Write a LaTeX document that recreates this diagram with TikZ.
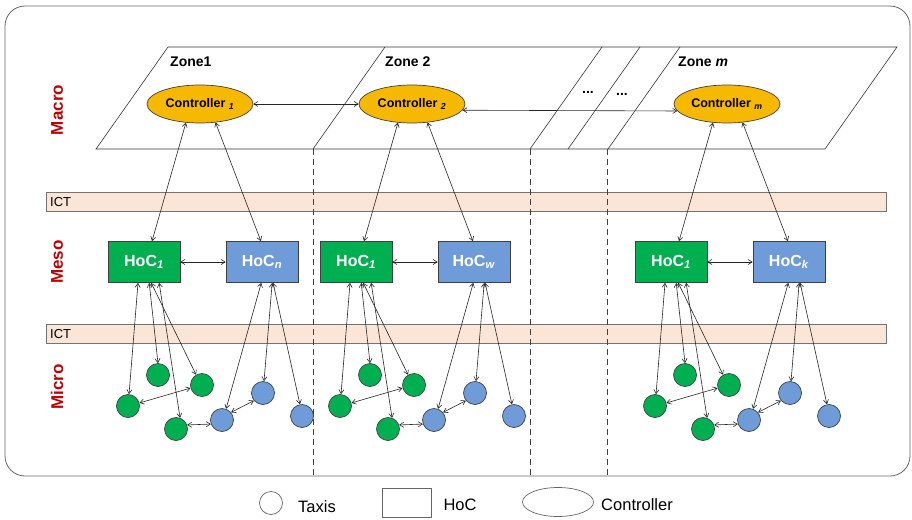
\documentclass[tikz,border=0pt]{standalone}
\usepackage{fontspec}
\setmainfont{Liberation Sans}
\usetikzlibrary{arrows.meta,shapes.geometric}

\definecolor{taxigreen}{HTML}{00B050}
\definecolor{taxiblue}{HTML}{6F9BD9}
\definecolor{ctrlorange}{HTML}{F6B800}
\definecolor{ictpeach}{HTML}{FBE5D6}
\definecolor{layerred}{HTML}{C00000}

\begin{document}
\begin{tikzpicture}[x=1pt, y=-1pt]

    \tikzset{link/.style={%
      {Straight Barb[length=4pt,width=5pt]}-{Straight Barb[length=4pt,width=5pt]},%
      draw=black!85,%
      line width=0.6pt}%
    };

    \tikzset{hoc/.style={draw=black!75, line width=0.7pt, minimum width=72pt, minimum height=41pt,
      inner sep=0pt, text=white, font=\fontsize{16}{19}\selectfont\bfseries}};
    \tikzset{greenhoc/.style={hoc, fill=taxigreen}};
    \tikzset{bluehoc/.style={hoc, fill=taxiblue}};
    \tikzset{taxi/.style={circle, draw=black!75, line width=0.7pt, minimum size=23pt, inner sep=0pt}};
    \tikzset{greentaxi/.style={taxi, fill=taxigreen}};
    \tikzset{bluetaxi/.style={taxi, fill=taxiblue}};
    \tikzset{ctrl/.style={ellipse, draw=black!75, line width=0.7pt, fill=ctrlorange, minimum width=106pt,
      minimum height=38pt, inner sep=0pt, font=\fontsize{12.5}{15}\selectfont\bfseries}};
    \tikzset{layer/.style={rotate=90, text=layerred, font=\fontsize{17}{20}\selectfont\bfseries}};
    \tikzset{ictband/.style={draw=black!55, line width=0.7pt, fill=ictpeach, minimum width=840pt,
      minimum height=19pt, inner sep=0pt, anchor=north west}};
    \tikzset{plane/.style={draw=black!80, line width=0.6pt}};
    \tikzset{zoneline/.style={draw=black!75, line width=0.7pt, dash pattern=on 6pt off 4pt}};
    \tikzset{zonelabel/.style={anchor=west, inner sep=0pt, font=\fontsize{14}{17}\selectfont\bfseries}};
    \tikzset{legend/.style={font=\fontsize{16.5}{20}\selectfont}};

    \useasboundingbox (0,0) rectangle (912,519);

    %%%%%%%%%%%%%%%
    % frame       %
    %%%%%%%%%%%%%%%
    \draw[black!60, line width=0.8pt, rounded corners=20pt] (5,6) rectangle (910,476);

    %%%%%%%%%%%%%%%
    % ICT bands   %
    %%%%%%%%%%%%%%%
    \node[ictband] (ictup) at (46,192) {};
    \node[ictband] (ictlow) at (46,324) {};
    \node[anchor=west, inner sep=4pt, font=\fontsize{13}{15}\selectfont] (ictuplab) at (ictup.west) {ICT};
    \node[anchor=west, inner sep=4pt, font=\fontsize{13}{15}\selectfont] (ictlowlab) at (ictlow.west) {ICT};

    %%%%%%%%%%%%%%%
    % macro plane %
    %%%%%%%%%%%%%%%
    \draw[plane] (168,47) -- (897,47) -- (825,149) -- (96,149) -- cycle;
    \foreach \xa in {385,602,640,680}
      \draw[plane] (\xa,47) -- ++(-72,102);
    \foreach \xb in {313,530,607}
      \draw[zoneline] (\xb,149) -- (\xb,476);

    \node[zonelabel] (zonea) at (170,62) {Zone1};
    \node[zonelabel] (zoneb) at (385,62) {Zone 2};
    \node[zonelabel] (zonec) at (678,62) {Zone \textit{m}};
    \node[font=\fontsize{14}{17}\selectfont\bfseries] (dotsa) at (588,92) {...};
    \node[font=\fontsize{14}{17}\selectfont\bfseries] (dotsb) at (622,94) {...};

    %%%%%%%%%%%%%%%
    % layers      %
    %%%%%%%%%%%%%%%
    \node[layer] (macro) at (57,110) {Macro};
    \node[layer] (meso) at (57,262) {Meso};
    \node[layer] (micro) at (57,387) {Micro};

    %%%%%%%%%%%%%%%
    % zones       %
    %%%%%%%%%%%%%%%
    \foreach \z/\x/\ca/\hb in {1/144/1/n, 2/356/2/w, 3/671/m/k} {
      \begin{scope}[xshift=\x pt]
        \node[ctrl] (c\z) at (56,104) {Controller \textsubscript{\textit{\ca}}};

        \node[greenhoc] (h\z a) at (0,262) {HoC\textsubscript{\textit{1}}};
        \node[bluehoc] (h\z b) at (118,262) {HoC\textsubscript{\textit{\hb}}};

        \node[greentaxi] (g\z a) at (14,375) {};
        \node[greentaxi] (g\z b) at (58,385) {};
        \node[greentaxi] (g\z c) at (-16,406) {};
        \node[greentaxi] (g\z d) at (32,429) {};
        \node[bluetaxi] (b\z a) at (78,420) {};
        \node[bluetaxi] (b\z b) at (119,393) {};
        \node[bluetaxi] (b\z c) at (158,416) {};

        \draw[link] (c\z.233) -- (h\z a.69);
        \draw[link] (c\z.310) -- (h\z b.93);
        \draw[link] (h\z a.east) -- (h\z b.west);
        \draw[link] (h\z a.254) -- (g\z c.85);
        \draw[link] (h\z a.284) -- (g\z a.north);
        \draw[link] (h\z a.289) -- (g\z b.120);
        \draw[link] (h\z a.306) -- (g\z d.70);
        \draw[link] (g\z c.15) -- (g\z b.195);
        \draw[link] (g\z d.20) -- (b\z a.200);
        \draw[link] (b\z a.40) -- (b\z b.220);
        \draw[link] (h\z b.268) -- (b\z a.70);
        \draw[link] (h\z b.296) -- (b\z b.85);
        \draw[link] (h\z b.298) -- (b\z c.100);
      \end{scope}
    }

    \draw[link] (c1.east) -- (c2.west);
    \draw[link] (c2.-7) -- (c3.188);

    %%%%%%%%%%%%%%%
    % legend      %
    %%%%%%%%%%%%%%%
    \node[taxi, draw=black!60] (legtaxi) at (271,503) {};
    \node[legend] (legtaxitext) at (317,507) {Taxis};
    \node[draw=black!60, line width=0.7pt, minimum width=49pt, minimum height=29pt] (leghoc) at (406.5,503) {};
    \node[legend] (leghoctext) at (460,505) {HoC};
    \node[ellipse, draw=black!60, line width=0.7pt, minimum width=71pt, minimum height=29pt] (legctrl) at (558,502) {};
    \node[legend] (legctrltext) at (637,505) {Controller};

  \end{tikzpicture}
\end{document}
